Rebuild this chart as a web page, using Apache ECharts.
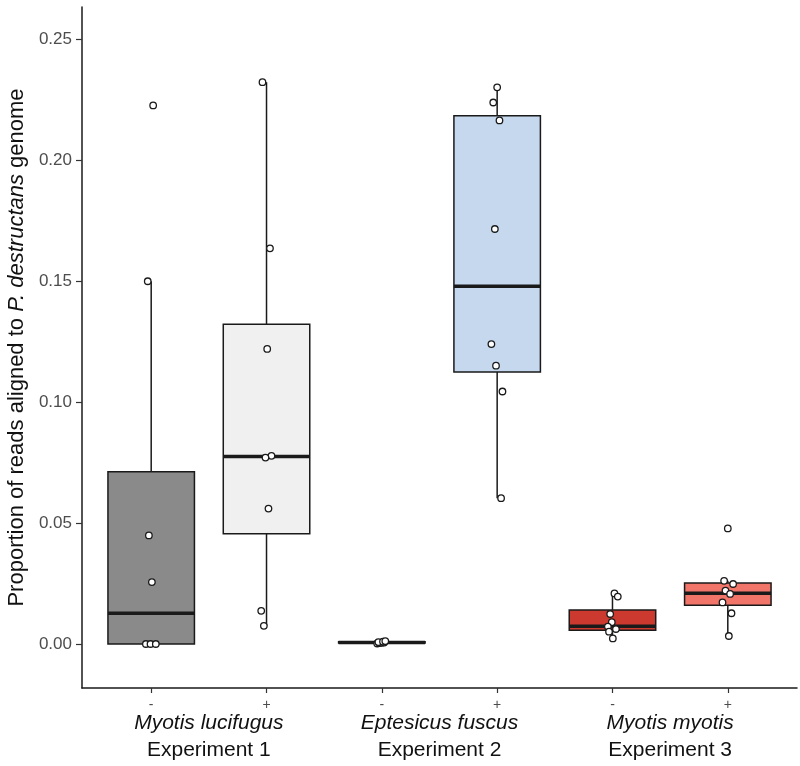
<!DOCTYPE html>
<html><head><meta charset="utf-8">
<script src="https://cdn.jsdelivr.net/npm/echarts@6/dist/echarts.min.js"></script>
<style>html,body{margin:0;padding:0;background:#fff}#c{width:800px;height:766px}</style>
</head><body><div id="c"></div>
<script>
// ---- data ----
const conditions = ['-', '+', '-', '+', '-', '+'];
const species = ['Myotis lucifugus', 'Eptesicus fuscus', 'Myotis myotis'];
const experiments = ['Experiment 1', 'Experiment 2', 'Experiment 3'];
const yTicks = [0, 0.05, 0.10, 0.15, 0.20, 0.25];

// [lower whisker, Q1, median, Q3, upper whisker]
const boxLuciNeg = [0, 0, 0.0127, 0.0712, 0.150];
const boxLuciPos = [0.0075, 0.0456, 0.0775, 0.1322, 0.2323];
const boxEptNeg  = [0.0002, 0.0004, 0.0006, 0.0009, 0.0012];
const boxEptPos  = [0.0603, 0.1125, 0.1479, 0.2184, 0.2302];
const boxMyoNeg  = [0.0023, 0.0057, 0.0073, 0.0141, 0.0209];
const boxMyoPos  = [0.0033, 0.0160, 0.0210, 0.0252, 0.0261];

// individual samples
const ptsLuciNeg = [0.2227, 0.150, 0.0449, 0.0256, 0, 0, 0];
const ptsLuciPos = [0.2323, 0.1636, 0.122, 0.0778, 0.0771, 0.056, 0.0137, 0.0075];
const ptsEptNeg  = [0.0002, 0.0004, 0.0005, 0.0006, 0.0008, 0.0010, 0.0012];
const ptsEptPos  = [0.2302, 0.2239, 0.2165, 0.1716, 0.124, 0.1151, 0.1044, 0.0603];
const ptsMyoNeg  = [0.0209, 0.0196, 0.0124, 0.0090, 0.0072, 0.0062, 0.0051, 0.0023];
const ptsMyoPos  = [0.0478, 0.0261, 0.0248, 0.0221, 0.0207, 0.0172, 0.0127, 0.0033];

// horizontal jitter of the samples (category units)
const jitLuciNeg = [0.017, -0.03, -0.02, 0.006, -0.046, -0.006, 0.04];
const jitLuciPos = [-0.035, 0.03, 0.006, 0.043, -0.009, 0.017, -0.046, -0.023];
const jitEptNeg  = [-0.04, -0.02, 0.0, 0.02, -0.03, 0.01, 0.03];
const jitEptPos  = [0.0, -0.034, 0.02, -0.02, -0.05, -0.01, 0.046, 0.034];
const jitMyoNeg  = [0.017, 0.046, -0.02, -0.006, -0.04, 0.03, -0.03, 0.003];
const jitMyoPos  = [0.0, -0.032, 0.046, -0.02, 0.02, -0.046, 0.032, 0.009];

// ---- build ----
const boxes = [boxLuciNeg, boxLuciPos, boxEptNeg, boxEptPos, boxMyoNeg, boxMyoPos];
const pts = [ptsLuciNeg, ptsLuciPos, ptsEptNeg, ptsEptPos, ptsMyoNeg, ptsMyoPos];
const jits = [jitLuciNeg, jitLuciPos, jitEptNeg, jitEptPos, jitMyoNeg, jitMyoPos];
const fills = ['#8a8a8a', '#f0f0f0', '#9a9a9a', '#c5d8ed', '#cc3a2f', '#f2756a'];
const ink = '#1a1a1a';
const FONT = '"Liberation Sans", Arial, Helvetica, sans-serif';

const boxData = boxes.map((b, i) => [i].concat(b));
const scatterData = [];
pts.forEach((arr, i) => arr.forEach((v, j) => scatterData.push([i + jits[i][j], v])));

const chart = echarts.init(document.getElementById('c'), null, {renderer: 'canvas'});
chart.setOption({
  backgroundColor: '#fff',
  animation: false,
  grid: {left: 82, right: 3, top: 7, bottom: 78, outerBoundsMode: 'none', containLabel: false},
  xAxis: [{
    type: 'value', min: -0.6, max: 5.6,
    splitLine: {show: false},
    axisLine: {show: true, onZero: false, lineStyle: {color: ink, width: 1.5}},
    axisTick: {show: true, customValues: [0, 1, 2, 3, 4, 5], length: 5, lineStyle: {color: '#333', width: 1.2}},
    axisLabel: {customValues: [0, 1, 2, 3, 4, 5], margin: 10, fontSize: 14, color: '#4d4d4d', fontFamily: FONT,
      formatter: v => conditions[Math.round(v)]}
  }, {
    type: 'value', min: -0.6, max: 5.6, position: 'bottom',
    splitLine: {show: false}, axisLine: {show: false, onZero: false}, axisTick: {show: false},
    axisLabel: {customValues: [0.5, 2.5, 4.5], margin: 22, fontFamily: FONT, color: '#111',
      formatter: v => { const k = Math.round((v - 0.5) / 2); return '{s|' + species[k] + '}\n{e|' + experiments[k] + '}'; },
      rich: {
        s: {fontSize: 21, fontStyle: 'italic', fontFamily: FONT, color: '#111', lineHeight: 27},
        e: {fontSize: 21, fontFamily: FONT, color: '#111', lineHeight: 27}
      }}
  }],
  yAxis: {
    type: 'value', min: -0.0182, max: 0.2634,
    splitLine: {show: false},
    axisLine: {show: true, onZero: false, lineStyle: {color: ink, width: 1.5}},
    axisTick: {show: true, customValues: yTicks, length: 6, lineStyle: {color: '#333', width: 1.2}},
    axisLabel: {customValues: yTicks, margin: 10, fontSize: 17, color: '#4d4d4d', fontFamily: FONT,
      formatter: v => v.toFixed(2)},
    name: '{n|Proportion of reads aligned to }{i|P. destructans}{n| genome}',
    nameLocation: 'middle', nameGap: 52,
    nameTextStyle: {rich: {
      n: {fontSize: 22, fontFamily: FONT, color: '#111'},
      i: {fontSize: 22, fontFamily: FONT, fontStyle: 'italic', color: '#111'}
    }}
  },
  series: [{
    type: 'custom',
    xAxisIndex: 0,
    data: boxData,
    encode: {x: 0, y: [1, 2, 3, 4, 5]},
    z: 2,
    renderItem: (params, api) => {
      const i = api.value(0);
      const lo = api.coord([i, api.value(1)]);
      const q1 = api.coord([i, api.value(2)]);
      const md = api.coord([i, api.value(3)]);
      const q3 = api.coord([i, api.value(4)]);
      const hi = api.coord([i, api.value(5)]);
      const w = api.size([0.75, 0])[0];
      const x = lo[0];
      const ls = {stroke: ink, lineWidth: 1.5};
      return {type: 'group', children: [
        {type: 'line', shape: {x1: x, y1: hi[1], x2: x, y2: q3[1]}, style: ls},
        {type: 'line', shape: {x1: x, y1: q1[1], x2: x, y2: lo[1]}, style: ls},
        {type: 'rect', shape: {x: x - w / 2, y: q3[1], width: w, height: Math.max(q1[1] - q3[1], 0.5)},
          style: {fill: fills[params.dataIndex], stroke: ink, lineWidth: 1.5}},
        {type: 'line', shape: {x1: x - w / 2, y1: md[1], x2: x + w / 2, y2: md[1]}, style: {stroke: ink, lineWidth: 3.5}}
      ]};
    }
  }, {
    type: 'scatter',
    xAxisIndex: 0,
    data: scatterData,
    symbol: 'circle',
    symbolSize: 6.5,
    z: 3,
    itemStyle: {color: '#fff', borderColor: ink, borderWidth: 1.3, opacity: 1}
  }]
});
</script>
</body></html>
